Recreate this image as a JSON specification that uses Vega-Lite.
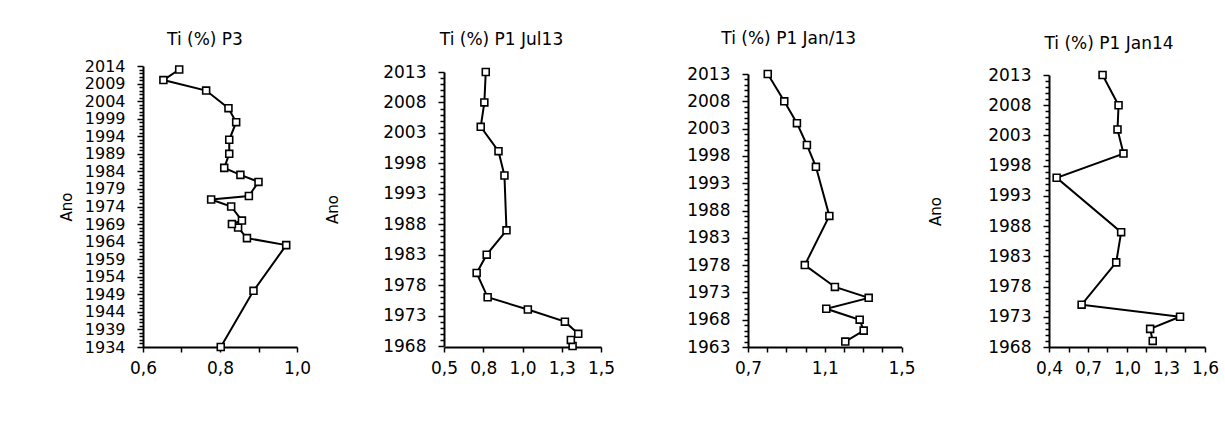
{
  "$schema": "https://vega.github.io/schema/vega-lite/v6.json",
  "background": "white",
  "padding": {"left": 59, "top": 30, "right": 5, "bottom": 5},
  "bounds": "flush",
  "spacing": 147,
  "datasets": {
    "p3": [
      {"ano": 2013, "ti": 0.694}, {"ano": 2010, "ti": 0.653}, {"ano": 2007, "ti": 0.764},
      {"ano": 2002, "ti": 0.822}, {"ano": 1998, "ti": 0.842}, {"ano": 1993, "ti": 0.824},
      {"ano": 1989, "ti": 0.824}, {"ano": 1985, "ti": 0.811}, {"ano": 1983, "ti": 0.853},
      {"ano": 1981, "ti": 0.900}, {"ano": 1977, "ti": 0.875}, {"ano": 1976, "ti": 0.777},
      {"ano": 1974, "ti": 0.829}, {"ano": 1970, "ti": 0.857}, {"ano": 1969, "ti": 0.831},
      {"ano": 1968, "ti": 0.847}, {"ano": 1965, "ti": 0.870}, {"ano": 1963, "ti": 0.972},
      {"ano": 1950, "ti": 0.887}, {"ano": 1934, "ti": 0.802}
    ],
    "jul13": [
      {"ano": 2013, "ti": 0.766}, {"ano": 2008, "ti": 0.757}, {"ano": 2004, "ti": 0.734},
      {"ano": 2000, "ti": 0.847}, {"ano": 1996, "ti": 0.885}, {"ano": 1987, "ti": 0.898},
      {"ano": 1983, "ti": 0.772}, {"ano": 1980, "ti": 0.708}, {"ano": 1976, "ti": 0.778},
      {"ano": 1974, "ti": 1.034}, {"ano": 1972, "ti": 1.270}, {"ano": 1970, "ti": 1.355},
      {"ano": 1969, "ti": 1.308}, {"ano": 1968, "ti": 1.319}
    ],
    "jan13": [
      {"ano": 2013, "ti": 0.803}, {"ano": 2008, "ti": 0.889}, {"ano": 2004, "ti": 0.955},
      {"ano": 2000, "ti": 1.007}, {"ano": 1996, "ti": 1.054}, {"ano": 1987, "ti": 1.124},
      {"ano": 1978, "ti": 0.996}, {"ano": 1974, "ti": 1.153}, {"ano": 1972, "ti": 1.329},
      {"ano": 1970, "ti": 1.108}, {"ano": 1968, "ti": 1.282}, {"ano": 1966, "ti": 1.303},
      {"ano": 1964, "ti": 1.207}
    ],
    "jan14": [
      {"ano": 2013, "ti": 0.812}, {"ano": 2008, "ti": 0.935}, {"ano": 2004, "ti": 0.927},
      {"ano": 2000, "ti": 0.973}, {"ano": 1996, "ti": 0.459}, {"ano": 1987, "ti": 0.955},
      {"ano": 1982, "ti": 0.917}, {"ano": 1975, "ti": 0.651}, {"ano": 1973, "ti": 1.408},
      {"ano": 1971, "ti": 1.178}, {"ano": 1969, "ti": 1.198}
    ]
  },
  "hconcat": [
    {
      "width": 154, "height": 281,
      "title": {"text": "Ti (%) P3", "frame": "group", "dx": -15, "offset": 9},
      "data": {"name": "p3"},
      "encoding": {
        "x": {"field": "ti", "type": "quantitative",
          "scale": {"domain": [0.6, 1.0], "nice": false, "zero": false},
          "axis": {"title": null, "values": [0.6, 0.7, 0.8, 0.9, 1.0],
            "labelExpr": "indexof([0.6, 0.8, 1], datum.value) >= 0 ? replace(format(datum.value, '.1f'), '.', ',') : ''"}},
        "y": {"field": "ano", "type": "quantitative",
          "scale": {"domain": [1934, 2014], "nice": false, "zero": false, "range": [281, 0]},
          "axis": {"title": "Ano", "titlePadding": 10, "labelFontSize": 16,
            "values": [1934,1935,1936,1937,1938,1939,1940,1941,1942,1943,1944,1945,1946,1947,1948,1949,1950,1951,1952,1953,1954,1955,1956,1957,1958,1959,1960,1961,1962,1963,1964,1965,1966,1967,1968,1969,1970,1971,1972,1973,1974,1975,1976,1977,1978,1979,1980,1981,1982,1983,1984,1985,1986,1987,1988,1989,1990,1991,1992,1993,1994,1995,1996,1997,1998,1999,2000,2001,2002,2003,2004,2005,2006,2007,2008,2009,2010,2011,2012,2013,2014],
            "labelExpr": "(datum.value - 1934) % 5 == 0 ? format(datum.value, 'd') : ''",
            "tickSize": {"condition": {"test": "(datum.value - 1934) % 5 == 0", "value": 6}, "value": 4}}},
        "order": {"field": "ano", "type": "quantitative"}
      },
      "layer": [
        {"mark": {"type": "line", "color": "black", "strokeWidth": 2}},
        {"mark": {"type": "point", "shape": "square", "filled": true, "fill": "white", "stroke": "black", "strokeWidth": 1.6, "size": 48, "opacity": 1}}
      ]
    },
    {
      "width": 157, "height": 281,
      "title": {"text": "Ti (%) P1 Jul13", "frame": "group", "dx": -21, "offset": 14},
      "data": {"name": "jul13"},
      "encoding": {
        "x": {"field": "ti", "type": "quantitative",
          "scale": {"domain": [0.5, 1.5], "nice": false, "zero": false},
          "axis": {"title": null, "values": [0.5, 0.75, 1.0, 1.25, 1.5],
            "labelExpr": "replace(format(datum.value, '.1f'), '.', ',')"}},
        "y": {"field": "ano", "type": "quantitative",
          "scale": {"domain": [1968, 2013], "nice": false, "zero": false, "range": [280, 6]},
          "axis": {"title": "Ano", "titlePadding": 42,
            "values": [1968,1969,1970,1971,1972,1973,1974,1975,1976,1977,1978,1979,1980,1981,1982,1983,1984,1985,1986,1987,1988,1989,1990,1991,1992,1993,1994,1995,1996,1997,1998,1999,2000,2001,2002,2003,2004,2005,2006,2007,2008,2009,2010,2011,2012,2013],
            "labelExpr": "(datum.value - 1968) % 5 == 0 ? format(datum.value, 'd') : ''",
            "tickSize": {"condition": {"test": "(datum.value - 1968) % 5 == 0", "value": 6}, "value": 4}}},
        "order": {"field": "ano", "type": "quantitative"}
      },
      "layer": [
        {"mark": {"type": "line", "color": "black", "strokeWidth": 2}},
        {"mark": {"type": "point", "shape": "square", "filled": true, "fill": "white", "stroke": "black", "strokeWidth": 1.6, "size": 48, "opacity": 1}}
      ]
    },
    {
      "width": 153.5, "height": 281,
      "title": {"text": "Ti (%) P1 Jan/13", "frame": "group", "dx": -36, "offset": 17},
      "data": {"name": "jan13"},
      "encoding": {
        "x": {"field": "ti", "type": "quantitative",
          "scale": {"domain": [0.7, 1.5], "nice": false, "zero": false},
          "axis": {"title": null, "values": [0.7, 0.8, 0.9, 1.0, 1.1, 1.2, 1.3, 1.4, 1.5],
            "labelExpr": "indexof([0.7, 1.1, 1.5], datum.value) >= 0 ? replace(format(datum.value, '.1f'), '.', ',') : ''"}},
        "y": {"field": "ano", "type": "quantitative",
          "scale": {"domain": [1963, 2013], "nice": false, "zero": false, "range": [281, 8]},
          "axis": {"title": null,
            "values": [1963,1964,1965,1966,1967,1968,1969,1970,1971,1972,1973,1974,1975,1976,1977,1978,1979,1980,1981,1982,1983,1984,1985,1986,1987,1988,1989,1990,1991,1992,1993,1994,1995,1996,1997,1998,1999,2000,2001,2002,2003,2004,2005,2006,2007,2008,2009,2010,2011,2012,2013],
            "labelExpr": "(datum.value - 1963) % 5 == 0 ? format(datum.value, 'd') : ''",
            "tickSize": {"condition": {"test": "(datum.value - 1963) % 5 == 0", "value": 6}, "value": 4}}},
        "order": {"field": "ano", "type": "quantitative"}
      },
      "layer": [
        {"mark": {"type": "line", "color": "black", "strokeWidth": 2}},
        {"mark": {"type": "point", "shape": "square", "filled": true, "fill": "white", "stroke": "black", "strokeWidth": 1.6, "size": 48, "opacity": 1}}
      ]
    },
    {
      "width": 156, "height": 281,
      "title": {"text": "Ti (%) P1 Jan14", "frame": "group", "dx": -18, "offset": 13},
      "data": {"name": "jan14"},
      "encoding": {
        "x": {"field": "ti", "type": "quantitative",
          "scale": {"domain": [0.4, 1.6], "nice": false, "zero": false},
          "axis": {"title": null, "values": [0.4, 0.55, 0.7, 0.85, 1.0, 1.15, 1.3, 1.45, 1.6],
            "labelExpr": "indexof([0.4, 0.7, 1, 1.3, 1.6], datum.value) >= 0 ? replace(format(datum.value, '.1f'), '.', ',') : ''"}},
        "y": {"field": "ano", "type": "quantitative",
          "scale": {"domain": [1968, 2013], "nice": false, "zero": false, "range": [281, 9]},
          "axis": {"title": "Ano", "titlePadding": 44,
            "values": [1968,1969,1970,1971,1972,1973,1974,1975,1976,1977,1978,1979,1980,1981,1982,1983,1984,1985,1986,1987,1988,1989,1990,1991,1992,1993,1994,1995,1996,1997,1998,1999,2000,2001,2002,2003,2004,2005,2006,2007,2008,2009,2010,2011,2012,2013],
            "labelExpr": "(datum.value - 1968) % 5 == 0 ? format(datum.value, 'd') : ''",
            "tickSize": {"condition": {"test": "(datum.value - 1968) % 5 == 0", "value": 6}, "value": 4}}},
        "order": {"field": "ano", "type": "quantitative"}
      },
      "layer": [
        {"mark": {"type": "line", "color": "black", "strokeWidth": 2}},
        {"mark": {"type": "point", "shape": "square", "filled": true, "fill": "white", "stroke": "black", "strokeWidth": 1.6, "size": 48, "opacity": 1}}
      ]
    }
  ],
  "config": {
    "view": {"stroke": null},
    "font": "DejaVu Sans",
    "axis": {
      "grid": false,
      "domainColor": "black", "domainWidth": 2,
      "tickColor": "black", "tickWidth": 1.5,
      "labelColor": "black", "labelFont": "DejaVu Sans", "labelFontSize": 17,
      "labelPadding": 12, "labelOverlap": false, "labelFlush": false,
      "titleColor": "black", "titleFont": "DejaVu Sans", "titleFontSize": 15, "titleFontWeight": "normal"
    },
    "axisX": {"tickSize": 5, "labelPadding": 8},
    "title": {"font": "DejaVu Sans", "fontSize": 17, "fontWeight": "normal", "color": "black"}
  }
}
